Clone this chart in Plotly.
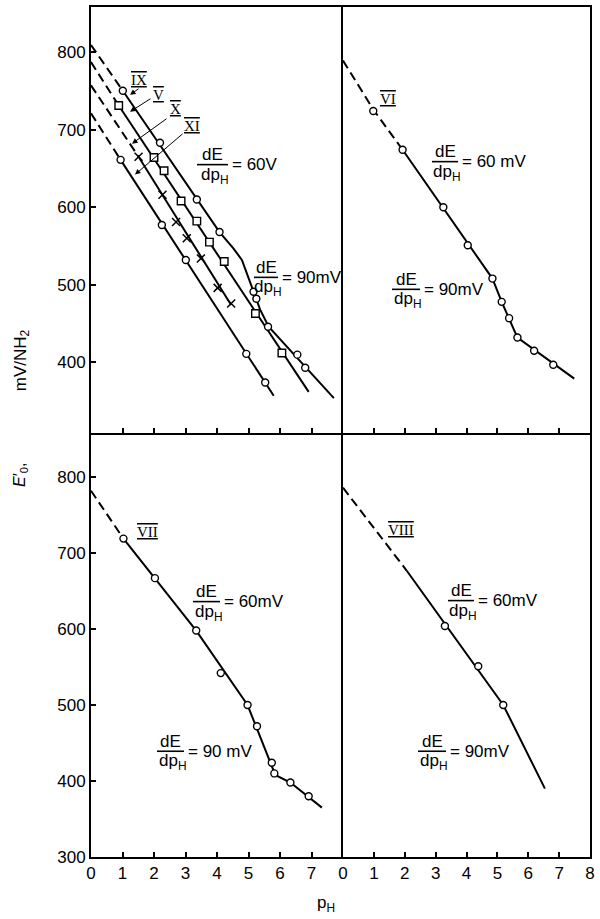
import plotly.graph_objects as go
from plotly.subplots import make_subplots

# ---------------- data (pH, E'0 in mV/NH2) ----------------
# Top-left panel: series IX, V, X, XI
ph_IX = [1.01, 2.19, 3.36, 4.08, 5.16, 5.25, 5.62, 6.55, 6.80]
e_IX = [750, 683, 610, 568, 491, 482, 446, 410, 393]
ph_V = [0.88, 2.00, 2.32, 2.86, 3.36, 3.76, 4.23, 5.22, 6.06]
e_V = [731, 664, 647, 608, 582, 555, 530, 463, 412]
ph_X = [1.51, 2.27, 2.70, 3.04, 3.49, 4.02, 4.45]
e_X = [665, 616, 581, 560, 534, 496, 476]
ph_XI = [0.94, 2.25, 3.01, 4.93, 5.53]
e_XI = [661, 577, 532, 411, 374]

# fitted curves (extrapolated part dashed)
fit_IX_dash_ph = [0, 1.01]
fit_IX_dash_e = [809, 750]
fit_IX_ph = [1.01, 4.08, 4.52, 4.79, 5.0, 5.16, 5.37, 5.64, 7.71]
fit_IX_e = [750, 568, 547, 532, 509, 491, 468, 446, 354]
fit_V_dash_ph = [0, 0.88]
fit_V_dash_e = [787, 731]
fit_V_ph = [0.88, 6.91]
fit_V_e = [731, 362]
fit_X_dash_ph = [0, 1.51]
fit_X_dash_e = [757, 665]
fit_X_ph = [1.51, 4.45]
fit_X_e = [665, 474]
fit_XI_dash_ph = [0, 0.94]
fit_XI_dash_e = [721, 661]
fit_XI_ph = [0.94, 5.80]
fit_XI_e = [661, 357]

# Top-right panel: series VI
ph_VI = [0.98, 1.93, 3.25, 4.04, 4.84, 5.14, 5.38, 5.65, 6.19, 6.81]
e_VI = [724, 674, 600, 551, 508, 478, 457, 432, 415, 397]
fit_VI_dash_ph = [0, 0.98, 1.93]
fit_VI_dash_e = [789, 726, 674]
fit_VI_ph = [1.93, 4.84, 5.14, 5.38, 5.65, 7.49]
fit_VI_e = [674, 508, 478, 457, 432, 379]

# Bottom-left panel: series VII
ph_VII = [1.03, 2.03, 3.34, 4.12, 4.97, 5.27, 5.74, 5.82, 6.33, 6.91]
e_VII = [719, 667, 598, 542, 500, 472, 424, 410, 398, 380]
fit_VII_dash_ph = [0, 1.03]
fit_VII_dash_e = [782, 719]
fit_VII_ph = [1.03, 2.03, 3.34, 4.97, 5.74, 5.85, 6.33, 7.33]
fit_VII_e = [719, 666, 598, 500, 421, 408, 398, 365]

# Bottom-right panel: series VIII
ph_VIII = [3.30, 4.38, 5.19]
e_VIII = [604, 551, 500]
fit_VIII_dash_ph = [0, 2.06]
fit_VIII_dash_e = [786, 677]
fit_VIII_ph = [2.06, 5.19, 6.54]
fit_VIII_e = [677, 500, 390]

x_ticks_left = [0, 1, 2, 3, 4, 5, 6, 7]
x_ticks_right = [0, 1, 2, 3, 4, 5, 6, 7, 8]
y_ticks_top = [400, 500, 600, 700, 800]
y_ticks_bottom = [300, 400, 500, 600, 700, 800]

# ---------------- layout geometry ----------------
W, H = 600, 919
ML, MR, MT, MB = 91, 10, 5, 62
PW = W - ML - MR
PH = H - MT - MB


def px(x, y):
    return (x - ML) / PW, (H - MB - y) / PH


XSPLIT = (343 - ML) / PW
YSPLIT = (857 - 432) / PH

FONT = "Liberation Sans"
SERIF = "Liberation Serif"

fig = make_subplots(rows=2, cols=2, horizontal_spacing=0, vertical_spacing=0)

LINE = dict(color="black", width=2)
DASH = dict(color="black", width=2, dash="9px,5px")
CIRC = dict(symbol="circle", size=7, color="white", line=dict(color="black", width=1.4))
SQR = dict(symbol="square", size=7.5, color="white", line=dict(color="black", width=1.4))
CROSS = dict(symbol="x-thin-open", size=8, color="black", line=dict(color="black", width=1.5))


def add_line(x, y, row, col, dashed=False):
    fig.add_trace(go.Scatter(x=x, y=y, mode="lines", line=DASH if dashed else LINE,
                             hoverinfo="skip", showlegend=False), row=row, col=col)


def add_pts(x, y, row, col, marker):
    fig.add_trace(go.Scatter(x=x, y=y, mode="markers", marker=marker,
                             showlegend=False, cliponaxis=False), row=row, col=col)


# top-left
for dx, dy, sx, sy in [
    (fit_IX_dash_ph, fit_IX_dash_e, fit_IX_ph, fit_IX_e),
    (fit_V_dash_ph, fit_V_dash_e, fit_V_ph, fit_V_e),
    (fit_X_dash_ph, fit_X_dash_e, fit_X_ph, fit_X_e),
    (fit_XI_dash_ph, fit_XI_dash_e, fit_XI_ph, fit_XI_e),
]:
    add_line(dx, dy, 1, 1, dashed=True)
    add_line(sx, sy, 1, 1)
add_pts(ph_IX, e_IX, 1, 1, CIRC)
add_pts(ph_V, e_V, 1, 1, SQR)
add_pts(ph_X, e_X, 1, 1, CROSS)
add_pts(ph_XI, e_XI, 1, 1, CIRC)

# top-right
add_line(fit_VI_dash_ph, fit_VI_dash_e, 1, 2, dashed=True)
add_line(fit_VI_ph, fit_VI_e, 1, 2)
add_pts(ph_VI, e_VI, 1, 2, CIRC)

# bottom-left
add_line(fit_VII_dash_ph, fit_VII_dash_e, 2, 1, dashed=True)
add_line(fit_VII_ph, fit_VII_e, 2, 1)
add_pts(ph_VII, e_VII, 2, 1, CIRC)

# bottom-right
add_line(fit_VIII_dash_ph, fit_VIII_dash_e, 2, 2, dashed=True)
add_line(fit_VIII_ph, fit_VIII_e, 2, 2)
add_pts(ph_VIII, e_VIII, 2, 2, CIRC)

# ---------------- axes ----------------
ax_common = dict(showline=True, linecolor="black", linewidth=2,
                 showgrid=False, zeroline=False, ticks="inside", ticklen=5,
                 tickwidth=1.5, tickcolor="black",
                 tickfont=dict(family=FONT, size=17, color="black"))

fig.update_layout(
    xaxis=dict(ax_common, mirror=True, domain=[0, XSPLIT], range=[0, 8],
               tickvals=x_ticks_left[1:], showticklabels=False),
    xaxis2=dict(ax_common, mirror=True, domain=[XSPLIT, 1], range=[0, 8],
                tickvals=x_ticks_right[1:-1], showticklabels=False),
    xaxis3=dict(ax_common, mirror=False, domain=[0, XSPLIT], range=[0, 8],
                tickvals=x_ticks_left, ticktext=[str(v) for v in x_ticks_left]),
    xaxis4=dict(ax_common, mirror=False, domain=[XSPLIT, 1], range=[0, 8],
                tickvals=x_ticks_right, ticktext=[str(v) for v in x_ticks_right]),
    yaxis=dict(ax_common, mirror=False, domain=[YSPLIT, 1], range=[309, 858],
               tickvals=y_ticks_top),
    yaxis2=dict(ax_common, mirror=True, domain=[YSPLIT, 1], range=[309, 858], ticks="",
                showticklabels=False),
    yaxis3=dict(ax_common, mirror=False, domain=[0, YSPLIT], range=[300, 858],
                tickvals=y_ticks_bottom),
    yaxis4=dict(ax_common, mirror=True, domain=[0, YSPLIT], range=[300, 858], ticks="",
                showticklabels=False),
)

# ---------------- annotations ----------------
ann = []
shapes = []


def text(x, y, s, size=16, family=FONT, angle=0, xanchor="center"):
    xp, yp = px(x, y)
    ann.append(dict(x=xp, y=yp, xref="paper", yref="paper", text=s, showarrow=False,
                    textangle=angle, xanchor=xanchor, yanchor="middle",
                    font=dict(family=family, size=size, color="black")))


def roman(x, y, s):
    text(x, y, '<span style="text-decoration:underline overline">' + s + "</span>",
         size=15, family=SERIF)


def arrow(x0, y0, x1, y1):
    xp, yp = px(x1, y1)
    ann.append(dict(x=xp, y=yp, xref="paper", yref="paper", text=" ", showarrow=True,
                    ax=x0 - x1, ay=y0 - y1, arrowhead=2, arrowsize=1.1, arrowwidth=1,
                    arrowcolor="black", font=dict(size=1)))


def frac(bx0, bx1, by, rhs, num_dx=0, den_dx=2):
    cx = (bx0 + bx1) / 2
    text(cx + num_dx, by - 10, "dE", size=17)
    text(cx + den_dx, by + 11, "dp<sub>H</sub>", size=17)
    a0, b0 = px(bx0, by)
    a1, b1 = px(bx1, by)
    shapes.append(dict(type="line", xref="paper", yref="paper", x0=a0, x1=a1, y0=b0, y1=b1,
                       line=dict(color="black", width=1.6)))
    text(bx1 + 2, by, rhs, size=17, xanchor="left")


# top-left
roman(139, 78, "IX")
roman(158, 93, "V")
roman(175, 107, "X")
roman(192, 124, "XI")
arrow(140, 86, 130, 93)
arrow(152, 96, 130, 110)
arrow(168, 116, 132, 142)
arrow(184, 131, 135, 173)
frac(197, 228, 163, "= 60V")
frac(254, 278, 276, "= 90mV")
# top-right
roman(388, 97, "VI")
frac(432, 458, 160, "= 60 mV")
frac(392, 420, 288, "= 90mV")
# bottom-left
roman(147, 531, "VII")
frac(193, 220, 601, "= 60mV")
frac(157, 184, 751, "= 90 mV")
# bottom-right
roman(401, 529, "VIII")
frac(448, 474, 600, "= 60mV")
frac(418, 446, 751, "= 90mV")

# axis titles
text(22, 359, "mV/NH<sub>2</sub>", size=17, angle=-90)
text(21, 474, "<i>E</i>′<sub>0</sub>,", size=16, angle=-90)
text(326, 904, "p<sub>H</sub>", size=17)

fig.update_layout(
    width=W, height=H,
    margin=dict(l=ML, r=MR, t=MT, b=MB),
    paper_bgcolor="white", plot_bgcolor="white",
    showlegend=False,
    annotations=ann, shapes=shapes,
)

fig.write_html("out.html", config={"displayModeBar": False},
               post_script="document.body.style.margin='0px';")
